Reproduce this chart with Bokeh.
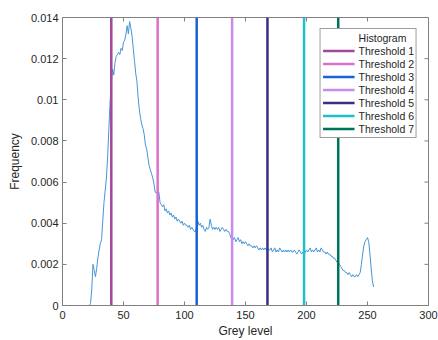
from bokeh.plotting import figure
from bokeh.models import Range1d, FixedTicker, Legend, LegendItem, CustomJSTickFormatter
from bokeh.embed import file_html
from bokeh.resources import INLINE

grey_levels = list(range(256))
# histogram frequencies in units of 1e-4
hist_e4 = [
    0, 0, 0, 0, 0, 0, 0, 0, 0, 0, 0, 0, 0, 0, 0, 0, 0, 0, 0, 0, 0, 0, 0,
    1, 8, 20, 17, 14, 18, 23, 27, 30, 32, 41, 50, 56, 62, 72, 86, 99,
    108, 115, 112, 118, 121, 122, 123, 122, 125, 124, 128, 129, 132, 136, 132, 138, 135, 131, 125, 119,
    113, 109, 101, 95, 91, 88, 86, 83, 78, 76, 72, 68, 66, 64, 62, 59, 55, 55, 54, 55,
    50, 49, 48, 49, 46, 47, 45, 46, 44, 45, 43, 44, 42, 43, 41, 42, 41, 40, 41, 39,
    40, 39, 39, 38, 39, 37, 38, 37, 36, 36, 38, 41, 39, 40, 38, 39, 37, 36, 38, 37,
    38, 42, 39, 37, 38, 37, 38, 37, 38, 36, 37, 38, 37, 36, 37, 36, 36, 35, 33, 34,
    32, 33, 31, 32, 33, 31, 32, 30, 31, 30, 31, 30, 29, 30, 29, 29, 28, 29, 28, 29,
    28, 27, 28, 27, 28, 27, 28, 27, 28, 27, 27, 28, 26, 27, 28, 26, 27, 26, 28, 27,
    26, 27, 26, 27, 26, 27, 26, 27, 26, 26, 27, 26, 25, 26, 27, 26, 25, 26, 25, 26,
    27, 26, 27, 28, 26, 27, 26, 27, 28, 26, 27, 26, 28, 27, 26, 26, 25, 26, 25, 25,
    24, 24, 23, 23, 22, 21, 21, 20, 19, 18, 17, 17, 16, 16, 15, 16, 15, 14, 15, 14,
    14, 15, 14, 15, 16, 20, 25, 29, 31, 32, 33, 31, 25, 18, 12, 9,
]
frequency = [v / 10000 for v in hist_e4]

thresholds = [40, 78, 110, 139, 168, 198, 226]
threshold_labels = ["Threshold 1", "Threshold 2", "Threshold 3", "Threshold 4",
                    "Threshold 5", "Threshold 6", "Threshold 7"]
threshold_colors = ["#A2479B", "#DC6FC8", "#1563D6", "#C98AEB", "#3A2F85", "#20C0C8", "#00715A"]

x_ticks = [0, 50, 100, 150, 200, 250, 300]
y_ticks = [0, 0.002, 0.004, 0.006, 0.008, 0.01, 0.012, 0.014]

X_MAX = 300
Y_MAX = 0.014

FONT = "Liberation Sans"
TXT = "#262626"
AX = "#808080"

W, H = 438, 340
BL, BR, BT, BB = 62, 10, 17, 34
FW, FH = W - BL - BR, H - BT - BB
TICK_PX = 4

p = figure(width=W, height=H, output_backend="svg", toolbar_location=None,
           x_range=Range1d(0, X_MAX), y_range=Range1d(0, Y_MAX),
           min_border_left=BL, min_border_right=BR, min_border_top=BT, min_border_bottom=BB)
p.grid.visible = False
p.outline_line_color = AX
p.background_fill_color = "white"
p.border_fill_color = "white"

hist = p.line(grey_levels, frequency, line_color="#4595D6", line_width=1)
hist_leg = p.line([], [], line_color="#CBE6F5", line_width=1)

items = [LegendItem(label="Histogram", renderers=[hist_leg])]
for t, lab, col in zip(thresholds, threshold_labels, threshold_colors):
    r = p.line([t, t], [0, Y_MAX], line_color=col, line_width=2.5)
    items.append(LegendItem(label=lab, renderers=[r]))

# inward ticks on the top and right edges of the box
dy = TICK_PX * Y_MAX / FH
dx = TICK_PX * X_MAX / FW
p.segment(x0=x_ticks, y0=[Y_MAX] * len(x_ticks), x1=x_ticks, y1=[Y_MAX - dy] * len(x_ticks),
          line_color=AX, line_width=1)
p.segment(x0=[X_MAX] * len(y_ticks), y0=y_ticks, x1=[X_MAX - dx] * len(y_ticks), y1=y_ticks,
          line_color=AX, line_width=1)

fmt = CustomJSTickFormatter(code="return String(parseFloat(tick.toFixed(4)));")

for ax in p.xaxis + p.yaxis:
    ax.major_tick_in = TICK_PX
    ax.major_tick_out = 0
    ax.minor_tick_line_color = None
    ax.axis_line_color = AX
    ax.major_tick_line_color = AX
    ax.major_label_text_font = FONT
    ax.major_label_text_font_size = "11px"
    ax.major_label_text_color = TXT
    ax.axis_label_text_font = FONT
    ax.axis_label_text_font_size = "12px"
    ax.axis_label_text_font_style = "normal"
    ax.axis_label_text_color = TXT

p.xaxis.ticker = FixedTicker(ticks=x_ticks)
p.yaxis.ticker = FixedTicker(ticks=y_ticks)
p.yaxis.formatter = fmt
p.xaxis.axis_label = "Grey level"
p.yaxis.axis_label = "Frequency"
p.xaxis.major_label_standoff = 5
p.xaxis.axis_label_standoff = 2
p.yaxis.major_label_standoff = 4
p.yaxis.axis_label_standoff = 6

legend = Legend(items=items, location="top_right", margin=11, padding=2, spacing=0,
                glyph_width=32, glyph_height=13, label_height=13, label_standoff=4,
                label_text_font=FONT, label_text_font_size="10.5px", label_text_color=TXT,
                border_line_color="#404040", border_line_width=1,
                background_fill_color="white", background_fill_alpha=1)
p.add_layout(legend, "center")

open("out.html", "w").write(file_html(p, INLINE))
